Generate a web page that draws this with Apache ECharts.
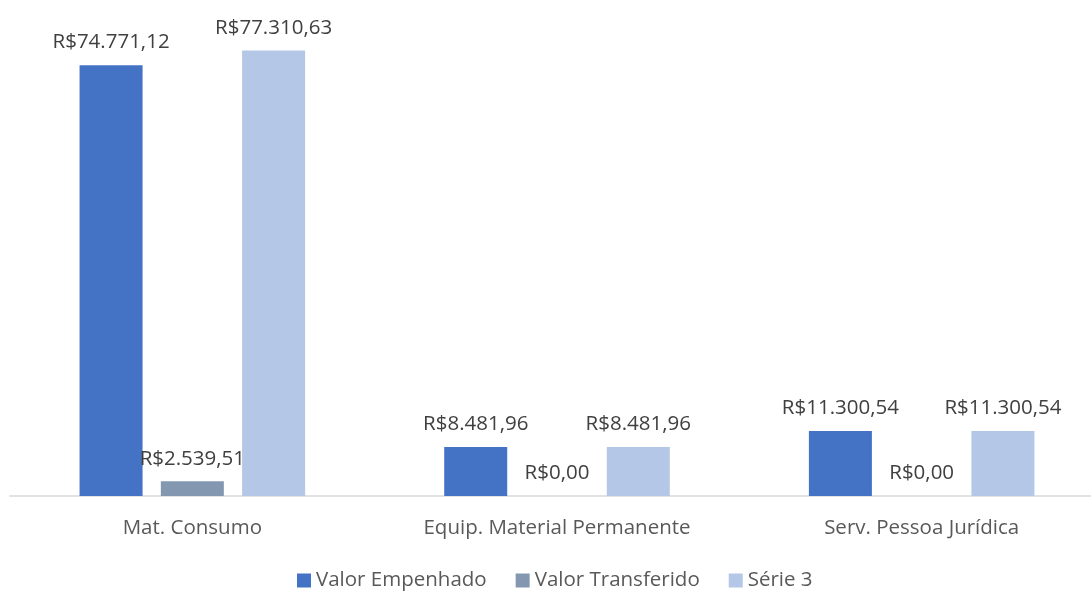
<!DOCTYPE html>
<html>
<head>
<meta charset="utf-8">
<script src="https://cdn.jsdelivr.net/npm/echarts@6/dist/echarts.min.js"></script>
<style>
  html, body { margin: 0; padding: 0; background: #fff; overflow: hidden; }
  #chart { width: 1104px; height: 593px; }
</style>
</head>
<body>
<div id="chart"></div>
<script>
// categorias e valores
const categories = ['Mat. Consumo', 'Equip. Material Permanente', 'Serv. Pessoa Jurídica']
const valorEmpenhado = [74771.12, 8481.96, 11300.54]
const valorTransferido = [2539.51, 0, 0]
const serie3 = [77310.63, 8481.96, 11300.54]

// formato R$ brasileiro
const brl = (v) => {
  const parts = v.toFixed(2).split('.')
  const inteiro = parts[0].replace(/\B(?=(\d{3})+(?!\d))/g, '.')
  return 'R$' + inteiro + ',' + parts[1]
}

const fontFamily = 'Open Sans, Liberation Sans, sans-serif'

const labelCfg = {
  show: true,
  position: 'top',
  distance: 12,
  color: '#404040',
  fontSize: 20.5,
  fontFamily: fontFamily,
  formatter: (p) => brl(p.value)
}

// o gráfico original é cortado à direita, por isso o div é mais largo que a janela
const chart = echarts.init(document.getElementById('chart'))

chart.setOption({
  animation: false,
  grid: {
    left: 10,
    top: 35,
    right: 0,
    height: 461,
    containLabel: false
  },
  legend: {
    left: 292,
    bottom: -3,
    itemWidth: 14,
    itemHeight: 14,
    itemGap: 29,
    icon: 'rect',
    textStyle: { color: '#595959', fontSize: 20.5, fontFamily: fontFamily },
    data: ['Valor Empenhado', 'Valor Transferido', 'Série 3']
  },
  xAxis: {
    type: 'category',
    data: categories,
    axisLine: { lineStyle: { color: '#d9d9d9', width: 1.5 } },
    axisTick: { show: false },
    axisLabel: { color: '#595959', fontSize: 20.5, fontFamily: fontFamily, margin: 22 }
  },
  yAxis: {
    type: 'value',
    min: 0,
    max: 80000,
    show: false,
    splitLine: { show: false }
  },
  series: [
    {
      name: 'Valor Empenhado',
      type: 'bar',
      data: valorEmpenhado,
      barWidth: 63,
      barGap: '29%',
      itemStyle: { color: '#4472C4' },
      label: labelCfg
    },
    {
      name: 'Valor Transferido',
      type: 'bar',
      data: valorTransferido,
      barWidth: 63,
      itemStyle: { color: '#8497B0' },
      label: labelCfg
    },
    {
      name: 'Série 3',
      type: 'bar',
      data: serie3,
      barWidth: 63,
      itemStyle: { color: '#B4C7E7' },
      label: labelCfg
    }
  ]
})
</script>
</body>
</html>
